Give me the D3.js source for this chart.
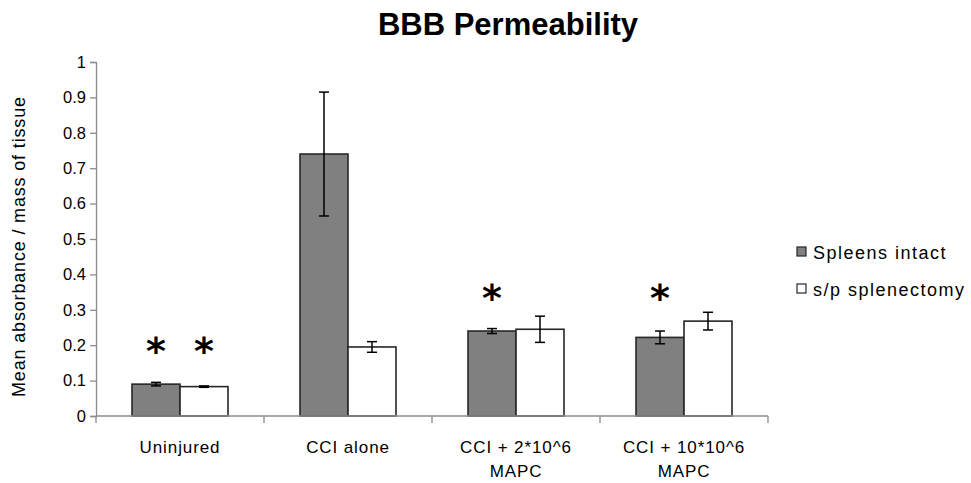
<!DOCTYPE html>
<html>
<head>
<meta charset="utf-8">
<script src="https://cdn.jsdelivr.net/npm/d3@7"></script>
<style>
  html, body { margin: 0; padding: 0; background: #fff; }
  svg { display: block; }
  text { font-family: "Liberation Sans", Arial, sans-serif; fill: #000; }
</style>
</head>
<body>
<svg id="chart" width="971" height="483"></svg>
<script>
// ---- data ----
const categories = ["Uninjured", "CCI alone", "CCI + 2*10^6 MAPC", "CCI + 10*10^6 MAPC"];
const categoryLines = [["Uninjured"], ["CCI alone"], ["CCI + 2*10^6", "MAPC"], ["CCI + 10*10^6", "MAPC"]];
const seriesNames = ["Spleens intact", "s/p splenectomy"];
const intactValues = [0.090, 0.740, 0.240, 0.222];
const intactErrors = [0.005, 0.175, 0.007, 0.018];
const splenectomyValues = [0.083, 0.195, 0.245, 0.268];
const splenectomyErrors = [0.002, 0.015, 0.037, 0.025];
const intactSignificant = [true, false, true, true];
const splenectomySignificant = [true, false, false, false];
const asteriskLevels = [0.2, null, 0.35, 0.35];
const yTicks = [0, 0.1, 0.2, 0.3, 0.4, 0.5, 0.6, 0.7, 0.8, 0.9, 1];
const yTickLabels = ["0", "0.1", "0.2", "0.3", "0.4", "0.5", "0.6", "0.7", "0.8", "0.9", "1"];
const titleText = "BBB Permeability";
const yLabelText = "Mean absorbance / mass of tissue";

// ---- layout ----
const svg = d3.select("#chart");
const mLeft = 96, mRight = 768, mTop = 62, mBottom = 416;
const fills = ["#808080", "#ffffff"];

const x = d3.scaleBand().domain(categories).range([mLeft, mRight]).paddingInner(0).paddingOuter(0);
const xs = d3.scaleBand().domain(seriesNames).range([0, x.bandwidth()]).paddingInner(0).paddingOuter(0.75);
const y = d3.scaleLinear().domain([0, 1]).range([mBottom, mTop]);

const rows = [];
categories.forEach((c, i) => {
  rows.push({cat: c, s: seriesNames[0], v: intactValues[i], e: intactErrors[i], sig: intactSignificant[i], lvl: asteriskLevels[i], fill: fills[0]});
  rows.push({cat: c, s: seriesNames[1], v: splenectomyValues[i], e: splenectomyErrors[i], sig: splenectomySignificant[i], lvl: asteriskLevels[i], fill: fills[1]});
});

// title
svg.append("text").attr("x", 508).attr("y", 35).attr("text-anchor", "middle")
  .style("font-size", "31px").style("font-weight", "bold").text(titleText);

// y axis
const yAxis = svg.append("g").attr("transform", `translate(${mLeft},0)`)
  .call(d3.axisLeft(y).tickValues(yTicks).tickFormat((d, i) => yTickLabels[i]).tickSize(6).tickPadding(4));
yAxis.select(".domain").attr("stroke", "#8c8c8c").attr("stroke-width", 1.3);
yAxis.selectAll(".tick line").attr("stroke", "#8c8c8c").attr("stroke-width", 1.3);
yAxis.selectAll(".tick text").style("font-size", "16.5px").style("font-family", "'Liberation Sans', Arial, sans-serif").attr("fill", "#000");

// y label
svg.append("text").attr("transform", `translate(25,247) rotate(-90)`)
  .attr("text-anchor", "middle").style("font-size", "18px")
  .attr("textLength", 300).attr("lengthAdjust", "spacing").text(yLabelText);

// bars
const g = svg.append("g");
g.selectAll("rect.bar").data(rows).join("rect").attr("class", "bar")
  .attr("x", d => x(d.cat) + xs(d.s))
  .attr("y", d => y(d.v))
  .attr("width", xs.bandwidth())
  .attr("height", d => y(0) - y(d.v))
  .attr("fill", d => d.fill)
  .attr("stroke", "#262626").attr("stroke-width", 1.6);

// x axis
const xAxisG = svg.append("g");
xAxisG.append("line").attr("x1", mLeft).attr("x2", mRight).attr("y1", y(0)).attr("y2", y(0))
  .attr("stroke", "#8c8c8c").attr("stroke-width", 1.3);
const boundaries = categories.map(c => x(c)).concat([x(categories[categories.length - 1]) + x.bandwidth()]);
xAxisG.selectAll("line.tk").data(boundaries).join("line").attr("class", "tk")
  .attr("x1", d => d).attr("x2", d => d).attr("y1", y(0)).attr("y2", y(0) + 7)
  .attr("stroke", "#8c8c8c").attr("stroke-width", 1.3);
const lab = xAxisG.selectAll("text.xl").data(categories).join("text").attr("class", "xl")
  .attr("text-anchor", "middle").style("font-size", "17px").style("letter-spacing", "0.9px")
  .attr("x", d => x(d) + x.bandwidth() / 2).attr("y", 453);
lab.each(function(d, i) {
  const t = d3.select(this);
  categoryLines[i].forEach((ln, j) => {
    t.append("tspan").attr("x", x(d) + x.bandwidth() / 2).attr("dy", j === 0 ? 0 : 24).text(ln);
  });
});

// error bars
const eb = g.selectAll("g.err").data(rows).join("g").attr("class", "err");
const cx = d => x(d.cat) + xs(d.s) + xs.bandwidth() / 2;
eb.append("line").attr("x1", cx).attr("x2", cx).attr("y1", d => y(d.v + d.e)).attr("y2", d => y(d.v - d.e))
  .attr("stroke", "#000").attr("stroke-width", 1.5);
eb.append("line").attr("x1", d => cx(d) - 5).attr("x2", d => cx(d) + 5).attr("y1", d => y(d.v + d.e)).attr("y2", d => y(d.v + d.e))
  .attr("stroke", "#000").attr("stroke-width", 1.5);
eb.append("line").attr("x1", d => cx(d) - 5).attr("x2", d => cx(d) + 5).attr("y1", d => y(d.v - d.e)).attr("y2", d => y(d.v - d.e))
  .attr("stroke", "#000").attr("stroke-width", 1.5);

// significance asterisks
g.selectAll("text.sig").data(rows.filter(d => d.sig)).join("text").attr("class", "sig")
  .attr("text-anchor", "middle")
  .attr("x", cx)
  .attr("y", d => y(d.lvl) + 19)
  .style("font-family", "'DejaVu Sans', sans-serif")
  .style("font-weight", "bold")
  .style("font-size", "38px")
  .text("*");

// legend
const lg = svg.append("g");
seriesNames.forEach((s, i) => {
  const yy = 252 + i * 37;
  lg.append("rect").attr("x", 797).attr("y", yy - 5).attr("width", 9).attr("height", 9)
    .attr("fill", fills[i]).attr("stroke", "#262626").attr("stroke-width", 1.2);
  lg.append("text").attr("x", 813).attr("y", yy + 7).style("font-size", "18px")
    .style("letter-spacing", "1.5px").text(s);
});
</script>
</body>
</html>
